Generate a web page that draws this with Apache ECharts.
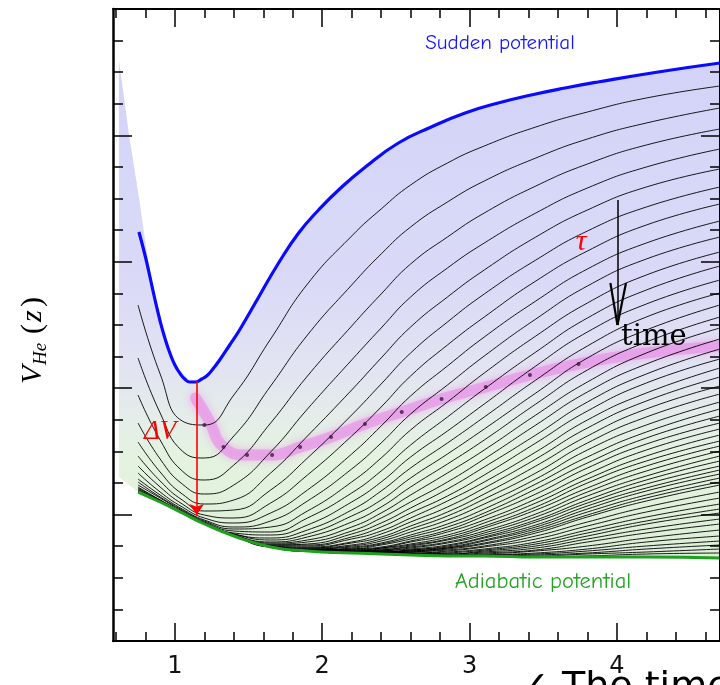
<!DOCTYPE html>
<html>
<head>
<meta charset="utf-8">
<script src="https://cdn.jsdelivr.net/npm/echarts@6/dist/echarts.min.js"></script>
<style>
  html, body { margin: 0; padding: 0; background: #fff; }
  #chart { width: 720px; height: 685px; }
</style>
</head>
<body>
<div id="chart"></div>
<script>
// ---- axis ticks ----
const X_MAJOR = [1, 2, 3, 4];
const X_MINOR = [0.6, 0.8, 1.2, 1.4, 1.6, 1.8, 2.2, 2.4, 2.6, 2.8, 3.2, 3.4, 3.6, 3.8, 4.2, 4.4, 4.6];
const X_LABELS = ['1', '2', '3', '4'];

// ---- sudden potential (upper bound, blue) ----
const SUDDEN_X = [0.756, 0.797, 0.831, 0.864, 0.898, 0.932, 0.966, 1.0, 1.033, 1.067, 1.101, 1.142, 1.182, 1.223, 1.263, 1.304, 1.372, 1.439, 1.569, 1.704, 1.84, 1.975, 2.111, 2.293, 2.517, 2.74, 2.97, 3.194, 3.418, 3.648, 3.871, 4.28, 4.7];
const SUDDEN_V = [409, 386, 364, 342, 321, 303, 288, 276, 268, 262, 259, 259, 262, 266, 273, 281, 296, 311, 344, 378, 408, 431, 451, 474, 498, 514, 528, 538, 546, 553, 559, 569, 578];

// ---- sampling grid shared by the adiabatic and the intermediate potentials ----
const Z_GRID = [0.75, 0.9, 1.05, 1.2, 1.4, 1.65, 1.9, 2.2, 2.4, 2.6, 2.85, 3.1, 3.45, 3.8, 4.2, 4.7];
const ADIABATIC_V = [149, 139, 128, 117, 105, 94, 90, 88, 87, 86, 85, 85, 84, 84, 84, 83];

// ---- intermediate potentials, one row per time step ----
const STEP_V = [
  [336,267,220,216,246,302,357,405,432,456,478,495,514,529,543,555],
  [283,228,190,183,205,255,306,356,387,414,439,460,483,502,518,533],
  [246,201,170,161,176,218,265,315,347,377,404,428,455,477,496,512],
  [218,182,157,147,156,189,232,281,313,344,373,398,428,453,474,492],
  [199,169,147,137,141,168,205,251,283,314,344,371,404,431,454,472],
  [185,160,141,130,131,151,183,226,257,288,319,347,381,410,434,454],
  [175,154,137,126,123,138,166,205,234,265,296,324,360,390,416,437],
  [168,149,134,123,118,128,151,187,215,245,275,304,340,372,398,420],
  [162,146,132,121,114,120,140,172,198,227,256,285,322,355,382,404],
  [159,144,131,120,112,114,130,159,183,211,239,268,305,338,366,389],
  [156,143,130,119,110,109,123,148,170,196,224,252,289,323,351,375],
  [154,141,129,118,108,106,116,139,159,184,210,237,275,309,337,361],
  [153,141,129,118,107,103,111,131,150,173,198,224,261,295,324,348],
  [152,140,128,117,107,101,107,125,141,163,187,212,248,283,311,336],
  [151,140,128,117,106,99,104,119,134,154,177,201,237,271,299,324],
  [150,139,128,117,106,98,101,114,128,146,168,191,226,259,288,313],
  [150,139,128,117,105,97,99,110,123,139,159,182,216,249,277,302],
  [150,139,128,117,105,96,97,107,118,133,152,174,206,239,267,292],
  [149,139,128,117,105,96,96,104,114,128,145,166,198,230,258,282],
  [149,139,128,117,105,95,95,102,110,123,140,159,189,221,248,273],
  [149,139,128,117,105,95,94,99,107,119,134,153,182,213,240,264],
  [149,139,128,117,105,95,93,98,104,115,129,147,175,205,232,255],
  [149,139,128,117,105,94,93,96,102,112,125,142,168,198,224,247],
  [149,139,128,117,105,94,92,95,100,109,121,137,162,191,216,239],
  [149,139,128,117,105,94,92,94,98,106,117,132,157,184,209,232],
  [149,139,128,117,105,94,91,93,97,104,114,128,152,178,203,225],
  [149,139,128,117,105,94,91,92,96,102,111,125,147,173,197,218],
  [149,139,128,117,105,94,91,92,94,100,109,121,142,167,191,212],
  [149,139,128,117,105,94,91,91,93,99,106,118,138,162,185,206],
  [149,139,128,117,105,94,90,91,93,97,104,115,134,158,180,200],
  [149,139,128,117,105,94,90,90,92,96,102,113,131,153,175,195],
  [149,139,128,117,105,94,90,90,91,95,101,110,127,149,170,190],
  [149,139,128,117,105,94,90,90,91,94,99,108,124,145,165,185],
  [149,139,128,117,105,94,90,89,90,93,98,106,121,141,161,180],
  [149,139,128,117,105,94,90,89,90,92,96,104,119,138,157,175],
  [149,139,128,117,105,94,90,89,89,91,95,103,116,135,153,171],
  [149,139,128,117,105,94,90,89,89,91,94,101,114,132,150,167],
  [149,139,128,117,105,94,90,89,89,90,93,100,112,129,146,163],
  [149,139,128,117,105,94,90,89,89,90,93,98,110,126,143,159],
  [149,139,128,117,105,94,90,88,88,89,92,97,108,124,140,156],
  [149,139,128,117,105,94,90,88,88,89,91,95,105,119,134,149],
  [149,139,128,117,105,94,90,88,88,88,90,94,102,115,129,143],
  [149,139,128,117,105,94,90,88,88,88,89,92,99,111,124,137],
  [149,139,128,117,105,94,90,88,87,87,88,91,97,108,120,132],
  [149,139,128,117,105,94,90,88,87,87,87,90,95,105,117,128],
  [149,139,128,117,105,94,90,88,87,87,87,89,93,102,112,122],
  [149,139,128,117,105,94,90,88,87,86,86,88,91,99,108,117],
  [149,139,128,117,105,94,90,88,87,86,86,87,90,95,103,111],
  [149,139,128,117,105,94,90,88,87,86,85,86,88,92,99,105],
  [149,139,128,117,105,94,90,88,87,86,85,86,87,90,95,100],
  [149,139,128,117,105,94,90,88,87,86,85,85,86,88,92,96],
  [149,139,128,117,105,94,90,88,87,86,85,85,85,87,89,92],
  [149,139,128,117,105,94,90,88,87,86,85,85,84,85,87,88]
];

// ---- shaded region between the two limiting potentials ----
const FILL_TOP_X = [0.62, 0.69, 0.76, 0.82, 0.89, 0.96, 1.03, 1.09, 1.16, 1.22, 1.30, 1.372, 1.439, 1.569, 1.704, 1.84, 1.975, 2.111, 2.293, 2.517, 2.74, 2.97, 3.194, 3.418, 3.648, 3.871, 4.28, 4.7];
const FILL_TOP_V = [581, 505, 440, 378, 328, 292, 271, 262, 260, 266, 281, 296, 311, 344, 378, 408, 431, 451, 474, 498, 514, 528, 538, 546, 553, 559, 569, 578];
const FILL_EDGE = [0.62, 164];

// ---- locus of the relaxation front and its markers ----
const FRONT_X = [1.14, 1.23, 1.33, 1.49, 1.66, 1.85, 2.06, 2.29, 2.54, 2.81, 3.11, 3.41, 3.74, 4.14, 4.70];
const FRONT_V = [243, 221, 194, 186, 186, 194, 204, 217, 229, 242, 254, 266, 277, 287, 295];
const MARK_X = [1.20, 1.33, 1.49, 1.66, 1.85, 2.06, 2.29, 2.54, 2.81, 3.11, 3.41, 3.74];
const MARK_V = [216, 194, 186, 186, 194, 204, 217, 229, 242, 254, 266, 277];

// ---- arrows ----
const DELTA_ARROW = [[1.148, 260], [1.148, 126]];
const TIME_SHAFT = [[4.004, 441], [4.004, 316]];
const TIME_HEAD = [[[3.956, 358], [4.004, 316]], [[4.062, 358], [4.004, 316]]];

const zip = (xs, ys) => xs.map((x, i) => [x, ys[i]]);

const chart = echarts.init(document.getElementById('chart'), null, { renderer: 'canvas' });

const tickStyle = { color: '#000', width: 1.5 };
function xAxisDef(position, values, len, withLine, withLabels) {
  return {
    type: 'value', position, min: 0.58, max: 4.7, z: 10,
    splitLine: { show: false },
    axisLine: { show: withLine, onZero: false, lineStyle: { color: '#000', width: 2 } },
    axisTick: { show: true, inside: true, length: len, customValues: values, lineStyle: tickStyle },
    axisLabel: withLabels ? {
      show: true, customValues: X_MAJOR, margin: 14,
      formatter: v => X_LABELS[X_MAJOR.indexOf(Math.round(v))] || '',
      fontFamily: '"DejaVu Sans", sans-serif', fontSize: 24, color: '#111'
    } : { show: false }
  };
}
function yAxisDef(position, lineWidth) {
  return {
    type: 'value', position, min: 0, max: 632, interval: 126.4, z: 10,
    splitLine: { show: false },
    axisLine: { show: true, onZero: false, lineStyle: { color: '#000', width: lineWidth } },
    axisTick: { show: true, inside: true, length: 19, lineStyle: tickStyle },
    minorTick: { show: true, splitNumber: 4, length: 10, lineStyle: tickStyle },
    minorSplitLine: { show: false },
    axisLabel: { show: false }
  };
}

const series = [];

// shaded band: lavender near the sudden potential fading to pale green near the adiabatic one
series.push({
  type: 'custom', coordinateSystem: 'cartesian2d', z: 1, silent: true, clip: true,
  data: [[FILL_TOP_X[0], FILL_TOP_V[0]]],
  renderItem: (params, api) => {
    const pts = [];
    FILL_TOP_X.forEach((x, i) => pts.push(api.coord([x, FILL_TOP_V[i]])));
    for (let i = Z_GRID.length - 1; i >= 0; i--) pts.push(api.coord([Z_GRID[i], ADIABATIC_V[i]]));
    pts.push(api.coord(FILL_EDGE));
    return {
      type: 'polygon',
      shape: { points: pts },
      style: {
        fill: new echarts.graphic.LinearGradient(0, 0, 0, 1, [
          { offset: 0.00, color: '#d3d3f9' },
          { offset: 0.45, color: '#dadaf7' },
          { offset: 0.62, color: '#e2e4f2' },
          { offset: 0.72, color: '#e5ede9' },
          { offset: 0.80, color: '#e4f3e0' },
          { offset: 1.00, color: '#ddefd7' }
        ]),
        stroke: null
      }
    };
  }
});

// soft magenta trace through the relaxation front
series.push({
  type: 'line', z: 2, silent: true, smooth: 0.5, symbol: 'none',
  data: zip(FRONT_X, FRONT_V),
  lineStyle: { color: 'rgba(232,150,232,0.7)', width: 11, shadowBlur: 8, shadowColor: 'rgba(232,150,232,0.9)', cap: 'round' }
});

// intermediate potentials
STEP_V.forEach(row => {
  series.push({
    type: 'line', z: 3, silent: true, smooth: 0.5, symbol: 'none',
    data: zip(Z_GRID, row),
    lineStyle: { color: '#000', width: 0.9 }
  });
});

// markers on the front
series.push({
  type: 'scatter', z: 4, silent: true, symbolSize: 4,
  data: zip(MARK_X, MARK_V),
  itemStyle: { color: '#3a1838' }
});

// adiabatic potential
series.push({
  type: 'line', z: 5, silent: true, smooth: 0.5, symbol: 'none',
  data: zip(Z_GRID, ADIABATIC_V),
  lineStyle: { color: '#1fa01f', width: 3 }
});

// sudden potential
series.push({
  type: 'line', z: 5, silent: true, smooth: 0.5, symbol: 'none',
  data: zip(SUDDEN_X, SUDDEN_V),
  lineStyle: { color: '#0a0aff', width: 3.2 }
});

// ΔV arrow
series.push({
  type: 'lines', coordinateSystem: 'cartesian2d', z: 6, silent: true,
  symbol: ['none', 'arrow'], symbolSize: 11,
  data: [{ coords: DELTA_ARROW }],
  lineStyle: { color: '#ff0000', width: 1.6, opacity: 1, curveness: 0 }
});

// time arrow
series.push({
  type: 'lines', coordinateSystem: 'cartesian2d', z: 6, silent: true,
  symbol: 'none',
  data: [{ coords: TIME_SHAFT, lineStyle: { width: 1.5 } }].concat(TIME_HEAD.map(c => ({ coords: c }))),
  lineStyle: { color: '#000', width: 2.2, opacity: 1, curveness: 0 }
});

function label(text, x, y, font, fill, align) {
  return {
    type: 'text', z: 20, silent: true,
    style: { text, x, y, font, fill, align: align || 'left', textAlign: align || 'left', verticalAlign: 'middle', textVerticalAlign: 'middle' }
  };
}
const serif = '"Liberation Serif", "DejaVu Serif", serif';
const roundSans = '"Comic Sans MS", "Comic Neue", "Open Sans", sans-serif';

const graphic = [
  label('Sudden potential', 500, 43, '21px ' + roundSans, '#1414ff', 'center'),
  label('Adiabatic potential', 543, 582, '22.5px ' + roundSans, '#22a322', 'center'),
  label('ΔV', 144, 432, 'italic 27px ' + serif, '#ff0000'),
  label('τ', 581, 242, 'italic 30px ' + serif, '#ff0000', 'center'),
  label('time', 621, 337, '29px "DejaVu Serif", serif', '#000'),
  label('✓ The time', 518, 688, '38px "DejaVu Sans", sans-serif', '#000'),
  {
    type: 'group', x: 33, y: 384, rotation: Math.PI / 2, silent: true,
    children: [
      { type: 'text', style: { text: 'V', x: 0, y: 0, font: 'italic 30px ' + serif, fill: '#000', verticalAlign: 'middle', textVerticalAlign: 'middle' } },
      { type: 'text', style: { text: 'He', x: 19, y: 8, font: 'italic 19px ' + serif, fill: '#000', verticalAlign: 'middle', textVerticalAlign: 'middle' } },
      { type: 'text', style: { text: '(', x: 50, y: 0, font: '30px ' + serif, fill: '#000', verticalAlign: 'middle', textVerticalAlign: 'middle' } },
      { type: 'text', style: { text: 'z', x: 62, y: 0, font: 'italic 30px ' + serif, fill: '#000', verticalAlign: 'middle', textVerticalAlign: 'middle' } },
      { type: 'text', style: { text: ')', x: 77, y: 0, font: '30px ' + serif, fill: '#000', verticalAlign: 'middle', textVerticalAlign: 'middle' } }
    ]
  }
];

chart.setOption({
  animation: false,
  backgroundColor: '#fff',
  grid: { left: 113, top: 9, width: 609, height: 632, containLabel: false },
  xAxis: [
    xAxisDef('bottom', X_MAJOR, 18, true, true),
    xAxisDef('bottom', X_MINOR, 9, false, false),
    xAxisDef('top', X_MAJOR, 18, true, false),
    xAxisDef('top', X_MINOR, 9, false, false)
  ],
  yAxis: [
    yAxisDef('left', 2.5),
    yAxisDef('right', 2)
  ],
  series,
  graphic
});
</script>
</body>
</html>
